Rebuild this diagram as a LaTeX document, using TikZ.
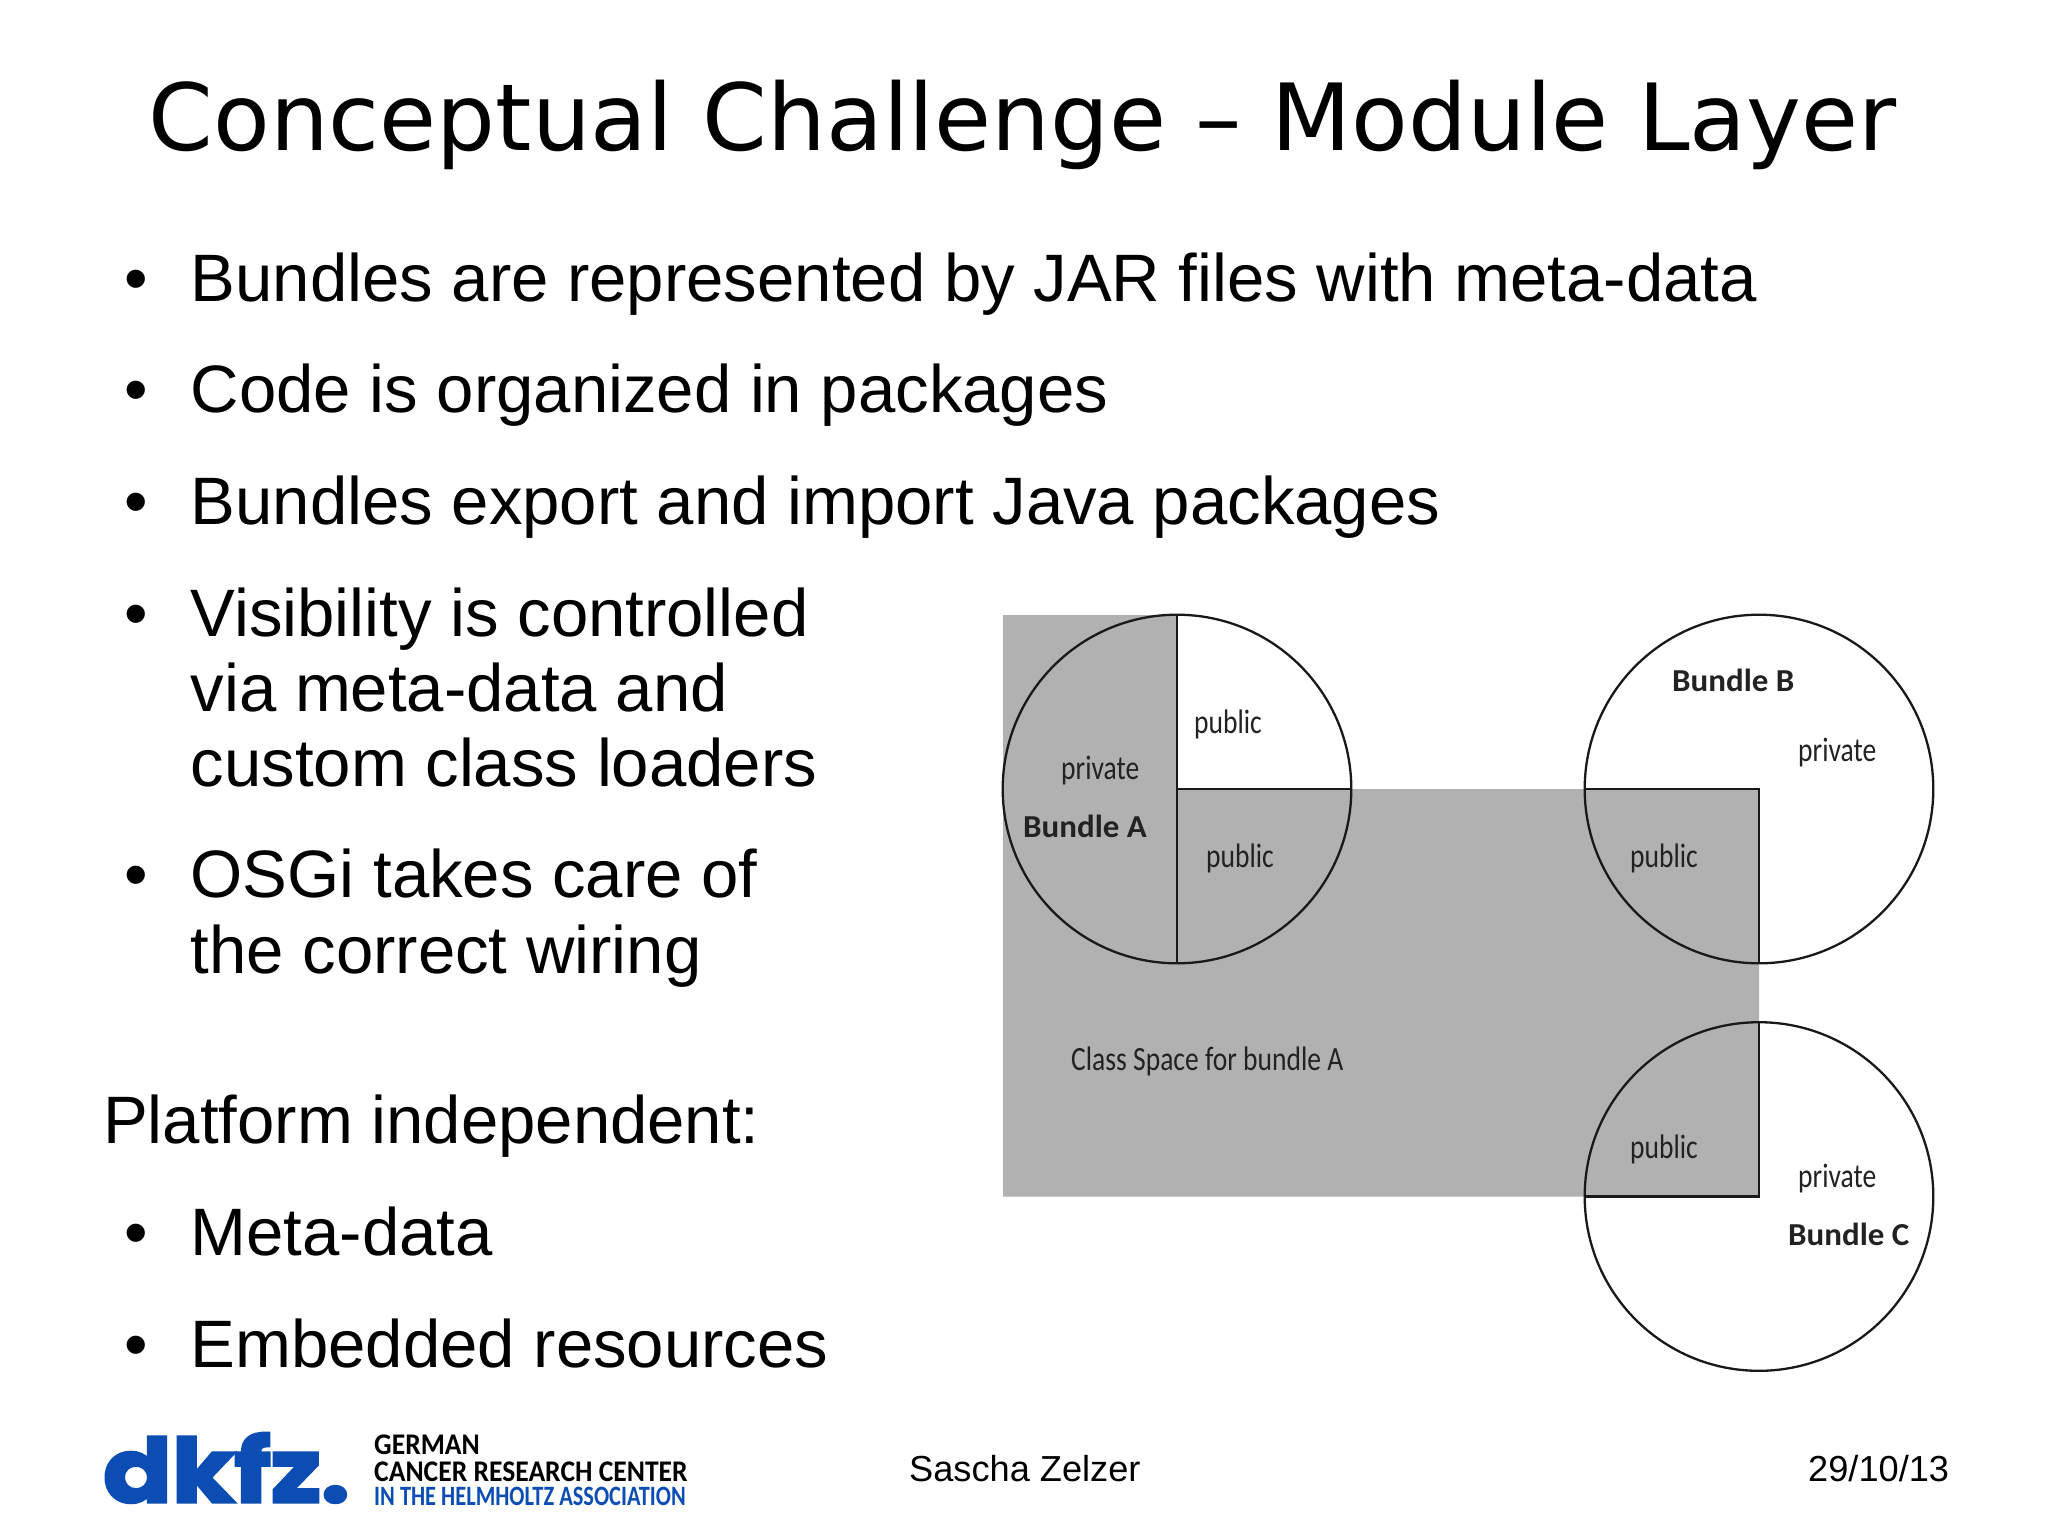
\documentclass[tikz,border=0pt]{standalone}
\usepackage{fontspec}
\setmainfont{Liberation Sans}
\newfontfamily\titlefont{DejaVu Sans}
\newfontfamily\diagfont[FakeStretch=0.81]{Carlito}
\newfontfamily\boldlabfont[FakeStretch=1.03]{Carlito}
\newfontfamily\assocfont[FakeStretch=0.8]{Carlito}
\newfontfamily\orgfont[FakeStretch=0.92]{Carlito}
\newfontfamily\logofont[FakeBold=3.4,FakeStretch=1.15]{Poppins}
\definecolor{spacegray}{HTML}{B1B1B1}
\definecolor{dkfzblue}{HTML}{0B4DB3}
\definecolor{labelink}{HTML}{222222}
\tikzset{
  txt/.style={inner sep=0pt,anchor=base west,text=black},
  titletxt/.style={txt,font=\titlefont\fontsize{92.7}{100}\selectfont},
  bodytxt/.style={txt,align=left,font=\fontsize{67.1}{75}\selectfont},
  foot/.style={txt,font=\fontsize{36.2}{40}\selectfont},
  lab/.style={txt,text=labelink,font=\diagfont\fontsize{34}{38}\selectfont},
  blab/.style={txt,text=labelink,font=\boldlabfont\bfseries\fontsize{32}{36}\selectfont},
  outline/.style={draw=black!90,line width=2.3pt},
  logotxt/.style={txt,font=\orgfont\bfseries\fontsize{30}{34}\selectfont},
}
\begin{document}
\begin{tikzpicture}[x=1pt,y=-1pt]
\useasboundingbox (0,0) rectangle (2048,1535);
\fill[white] (0,0) rectangle (2048,1535);
% class space
\fill[spacegray] (1003,615) -- (1177,615) -- (1177,789) -- (1759,789) -- (1759,1196.5) -- (1003,1196.5) -- cycle;
% bundle circles
\draw[outline] (1177,789) circle[radius=174.3];
\draw[outline] (1759,789) circle[radius=174.3];
\draw[outline] (1759,1196.5) circle[radius=174.3];
% dividers
\draw[outline] (1177,614.7) -- (1177,963.3);
\draw[outline] (1177,789) -- (1351.3,789);
\draw[outline] (1584.7,789) -- (1759,789) -- (1759,963.3);
\draw[outline] (1759,1022.2) -- (1759,1196.5) -- (1584.7,1196.5);
% diagram labels
\node[lab] (pa1) at (1194,733) {public};
\node[lab] (pra) at (1061,779.5) {private};
\node[blab] (ba) at (1023,837) {Bundle A};
\node[lab] (pa2) at (1206,867) {public};
\node[blab] (bb) at (1672,691) {Bundle B};
\node[lab] (prb) at (1798,761) {private};
\node[lab] (pb) at (1630,867) {public};
\node[lab] (cs) at (1071,1070.5) {Class Space for bundle A};
\node[lab] (pc) at (1630,1158) {public};
\node[lab] (prc) at (1798,1187) {private};
\node[blab] (bc) at (1788,1245) {Bundle C};
% title
\node[titletxt] (title) at (148.5,150) {Conceptual Challenge – Module Layer};
% bullets
\foreach \nm/\yy in {b1/301,b2/412,b3/524,b4/636,b5/897,b6/1255,b7/1367}
  \node[bodytxt] (\nm) at (124.5,\yy) {•};
\node[bodytxt] (t1) at (190.5,301) {Bundles are represented by JAR files with meta-data};
\node[bodytxt] (t2) at (190.5,412) {Code is organized in packages};
\node[bodytxt] (t3) at (190.5,524) {Bundles export and import Java packages};
\node[bodytxt] (t4a) at (190.5,636) {Visibility is controlled};
\node[bodytxt] (t4b) at (190.5,711) {via meta-data and};
\node[bodytxt] (t4c) at (190.5,786) {custom class loaders};
\node[bodytxt] (t5a) at (190.5,897) {OSGi takes care of};
\node[bodytxt] (t5b) at (190.5,973) {the correct wiring};
\node[bodytxt] (pf) at (103,1143) {Platform independent:};
\node[bodytxt] (t6) at (190.5,1255) {Meta-data};
\node[bodytxt] (t7) at (190.5,1367) {Embedded resources};
% footer
\node[foot] (author) at (909,1481) {Sascha Zelzer};
\node[foot] (date) at (1808,1481) {29/10/13};
% logo
\node[txt,text=dkfzblue,font=\logofont\bfseries\fontsize{88}{90}\selectfont] (logo) at (103,1502) {dkfz.};
\node[logotxt] (l1) at (374,1454) {GERMAN};
\node[logotxt] (l2) at (374,1481) {CANCER RESEARCH CENTER};
\node[txt,text=dkfzblue,font=\assocfont\bfseries\fontsize{28}{32}\selectfont] (l3) at (374,1505) {IN THE HELMHOLTZ ASSOCIATION};
\end{tikzpicture}
\end{document}
